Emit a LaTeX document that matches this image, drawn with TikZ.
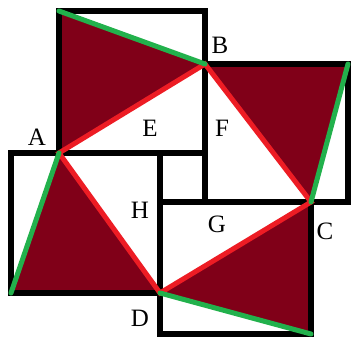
\documentclass[tikz,border=0pt]{standalone}
\usepackage{fontspec}
\setmainfont{Liberation Serif}
\definecolor{tri}{HTML}{800018}
\definecolor{redl}{HTML}{ED1C24}
\definecolor{greenl}{HTML}{22B14C}
\begin{document}
\begin{tikzpicture}[x=1pt,y=-1pt,
  box/.style={draw=black,line width=6.8pt,line join=miter},
  trifill/.style={fill=tri},
  redline/.style={draw=redl,line width=5pt,line cap=round},
  greenline/.style={draw=greenl,line width=5pt,line cap=round},
  lbl/.style={font=\fontsize{25}{25}\selectfont,inner sep=0pt}]
\useasboundingbox (0,0) rectangle (351,338);
% corner coordinates
\coordinate (A) at (59,153);
\coordinate (B) at (205,64);
\coordinate (C) at (311,202);
\coordinate (D) at (160,293);
\coordinate (tl) at (59,11);
\coordinate (tr) at (348,64);
\coordinate (br) at (311,334);
\coordinate (bl) at (11,293);
% triangles
\fill[trifill] (tl) -- (A) -- (B) -- cycle;
\fill[trifill] (B) -- (tr) -- (C) -- cycle;
\fill[trifill] (C) -- (br) -- (D) -- cycle;
\fill[trifill] (D) -- (bl) -- (A) -- cycle;
% boxes
\draw[box] (tl) rectangle (205,153);
\draw[box] (B) rectangle (348,202);
\draw[box] (160,202) rectangle (br);
\draw[box] (11,153) rectangle (D);
% square
\draw[redline] (A) -- (B) -- (C) -- (D) -- cycle;
% green sides
\draw[greenline] (tl) -- (B);
\draw[greenline] (C) -- (tr);
\draw[greenline] (D) -- (br);
\draw[greenline] (A) -- (bl);
% labels
\node[lbl] (lA) at (37,137) {A};
\node[lbl] (lB) at (220,45) {B};
\node[lbl] (lC) at (325,231) {C};
\node[lbl] (lD) at (140,318) {D};
\node[lbl] (lE) at (150,128) {E};
\node[lbl] (lF) at (222,128) {F};
\node[lbl] (lG) at (217,224) {G};
\node[lbl] (lH) at (140,210) {H};
\end{tikzpicture}
\end{document}
